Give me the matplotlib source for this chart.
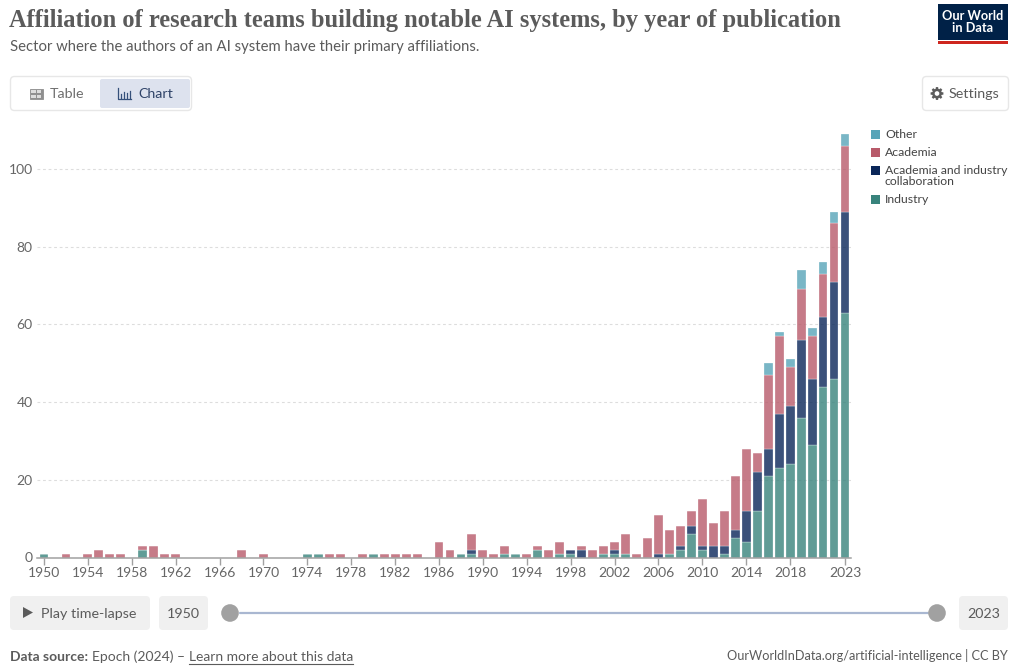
import matplotlib
matplotlib.use("Agg")
import matplotlib.pyplot as plt
import math
from matplotlib.patches import FancyBboxPatch, Rectangle, Circle, Polygon

years = list(range(1950, 2024))
industry = [1,0,0,0,0,0,0,0,0,2, 0,0,0,0,0,0,0,0,0,0, 0,0,0,0,1,1,0,0,0,0,
            1,0,0,0,0,0,0,0,1,1, 0,0,1,1,0,2,0,1,1,0, 0,1,1,1,0,0,0,1,2,6,
            2,0,1,5,4,12,21,23,24,36, 29,44,46,63]
collab = [0,0,0,0,0,0,0,0,0,0, 0,0,0,0,0,0,0,0,0,0, 0,0,0,0,0,0,0,0,0,0,
          0,0,0,0,0,0,0,0,0,1, 0,0,0,0,0,0,0,0,1,2, 0,0,1,0,0,0,1,0,1,2,
          1,3,2,2,8,10,7,14,15,20, 17,18,25,26]
academia = [0,0,1,0,1,2,1,1,0,1, 3,1,1,0,0,0,0,0,2,0, 1,0,0,0,0,0,1,1,0,1,
            0,1,1,1,1,0,4,2,0,4, 2,1,2,0,1,1,2,3,0,1, 2,2,2,5,1,5,10,6,5,4,
            12,6,9,14,16,5,19,20,10,13, 11,11,15,17]
other = [0]*66 + [3,1,2,5,2,3,3,3]

series_names = ["Other", "Academia", "Academia and industry\ncollaboration", "Industry"]
series_colors = ["#58A4B8", "#B85A6A", "#0A2659", "#38837C"]
y_ticks = [0, 20, 40, 60, 80, 100]
x_ticks = list(range(1950, 2022, 4)) + [2023]

W, H = 1020, 668
INK = "#5b5b5b"
plt.rcParams["font.family"] = ["Lato", "DejaVu Sans"]
fig = plt.figure(figsize=(W / 100, H / 100), dpi=100, facecolor="white")

# Chart area, placed by pixel edges
left, right, top, bottom = 37, 851, 125, 557.5
ax = fig.add_axes([left / W, 1 - bottom / H, (right - left) / W, (bottom - top) / H])
step = 801 / 73
ax.set_xlim(1950 - 7 / step, 1950 + (right - 44) / step)
ax.set_ylim(0, (bottom - top) / 3.885)

base = [0] * len(years)
for values, color in [(industry, series_colors[3]), (collab, series_colors[2]),
                      (academia, series_colors[1]), (other, series_colors[0])]:
    ax.bar(years, values, bottom=base, width=0.81, color=color, alpha=0.8,
           edgecolor="white", linewidth=0.25, zorder=3)
    base = [b + v for b, v in zip(base, values)]

for s in ["top", "left", "right"]:
    ax.spines[s].set_visible(False)
ax.spines["bottom"].set_color("#a1a1a1")
ax.spines["bottom"].set_linewidth(1.1)
ax.spines["bottom"].set_zorder(4)
ax.set_yticks(y_ticks)
ax.set_xticks(x_ticks)
ax.set_xticklabels(x_ticks)
ax.tick_params(axis="y", length=0, labelsize=10, labelcolor="#666666", pad=3)
ax.tick_params(axis="x", length=5, width=1, color="#a1a1a1", labelsize=10,
               labelcolor="#666666", pad=2)
ax.yaxis.grid(True, color="#dddddd", linewidth=0.8, linestyle=(0, (2.5, 2.5)), zorder=0)
ax.patch.set_alpha(0)

# Overlay in pixel coordinates for the page furniture around the chart
ui = fig.add_axes([0, 0, 1, 1], zorder=5)
ui.set_xlim(0, W)
ui.set_ylim(H, 0)
ui.axis("off")
ui.patch.set_alpha(0)


def box(x0, y0, x1, y1, fc, ec="none", r=4, lw=1):
    ui.add_patch(FancyBboxPatch((x0 + r, y0 + r), x1 - x0 - 2 * r, y1 - y0 - 2 * r,
                                boxstyle=f"round,pad={r},rounding_size={r}",
                                fc=fc, ec=ec, lw=lw, mutation_aspect=1))


def gear(cx, cy, radius, color):
    # Toothed outline with a hole in the middle
    pts = []
    for i in range(8):
        a = i * math.pi / 4
        for da, r in [(-0.30, radius * 0.74), (-0.17, radius), (0.17, radius), (0.30, radius * 0.74)]:
            pts.append([cx + r * math.cos(a + da), cy + r * math.sin(a + da)])
    ui.add_patch(Polygon(pts, fc=color, ec="none"))
    ui.add_patch(Circle((cx, cy), radius * 0.36, fc="white", ec="none"))


ui.text(9.5, 21, "Affiliation of research teams building notable AI systems, by year of publication",
        family=["Liberation Serif", "DejaVu Serif"], weight="bold", fontsize=17.65, color=INK, va="center")
ui.text(10, 47.5, "Sector where the authors of an AI system have their primary affiliations.",
        fontsize=10.75, color="#5b5b5b", va="center")

# Logo
ui.add_patch(Rectangle((938, 4), 70, 36, fc="#002147", ec="none"))
ui.add_patch(Rectangle((938, 40.5), 70, 3, fc="#CE261E", ec="none"))
ui.text(973, 22.5, "Our World\nin Data", color="white", fontsize=9.2, weight="bold",
        ha="center", va="center", linespacing=1.0)

# Table / Chart switch
box(10.5, 76.5, 191.5, 110.5, "white", "#e7e7e7")
box(100, 79, 190, 108, "#DDE2EE", r=2)
ui.text(50, 94.5, "Table", fontsize=10.3, color="#6e6e6e", va="center")
ui.text(138, 94.5, "Chart", fontsize=10.3, color="#2f4368", va="center")
ui.add_patch(Rectangle((30, 88.5), 13, 10.5, fc="#8f8f8f", ec="#8f8f8f", lw=0.6))
for x0, y0 in [(31.5, 90), (37.2, 90), (31.5, 95), (37.2, 95)]:
    ui.add_patch(Rectangle((x0, y0), 4.3, 3, fc="#dcdcdc", ec="none"))
ui.plot([118, 118, 131], [88, 99, 99], color="#35507a", lw=0.9)
for x0, h in [(121, 3.5), (124, 6), (127, 4.5), (130, 7)]:
    ui.plot([x0, x0], [97.5, 97.5 - h], color="#35507a", lw=0.9)

# Settings button
box(922.5, 76.5, 1008.5, 110.5, "white", "#e7e7e7")
gear(937, 93.5, 6.5, "#5b5b5b")
ui.text(949, 94.5, "Settings", fontsize=10.3, color="#5b5b5b", va="center")

# Legend
legend_y = [134.5, 152, 170, 199.5]
for name, color, y in zip(series_names, series_colors, legend_y):
    ui.add_patch(Rectangle((871, y - 4.5), 9, 9, fc=color, ec="none"))
    ui.text(885, y + 0.3 if "\n" not in name else y + 6, name, fontsize=8.85, color="#444444",
            va="center", linespacing=0.95)

# Time-lapse controls
box(10, 596, 150, 630, "#f0f0f0", r=4)
ui.add_patch(Polygon([[23, 607], [23, 618], [33, 612.5]], fc="#5b5b5b", ec="none"))
ui.text(41, 613.5, "Play time-lapse", fontsize=10.3, color="#5b5b5b", va="center")
box(159, 596, 208, 630, "#f0f0f0", r=4)
ui.text(183.5, 613.5, "1950", fontsize=10.3, color="#5b5b5b", va="center", ha="center")
box(959, 596, 1008, 630, "#f0f0f0", r=4)
ui.text(983.5, 613.5, "2023", fontsize=10.3, color="#5b5b5b", va="center", ha="center")
ui.plot([240, 928], [613, 613], color="#A9B7D1", lw=1.6, solid_capstyle="round")
for cx in [230, 937]:
    ui.add_patch(Circle((cx, 613), 8.8, fc="#a1a1a1", ec="none", zorder=6))

# Footer
ui.text(10.5, 657, "Data source:", fontsize=10, weight="bold", color="#5b5b5b", va="center")
ui.text(92, 657, "Epoch (2024) \u2013", fontsize=10, color="#5b5b5b", va="center")
ui.text(189, 657, "Learn more about this data", fontsize=10, color="#5b5b5b", va="center")
ui.plot([189, 353.5], [664, 664], color="#5b5b5b", lw=0.8)
ui.text(1007.5, 656, "OurWorldInData.org/artificial-intelligence | CC BY", fontsize=9.2,
        color="#5b5b5b", va="center", ha="right")

fig.savefig("out.png", dpi=100, facecolor="white")
